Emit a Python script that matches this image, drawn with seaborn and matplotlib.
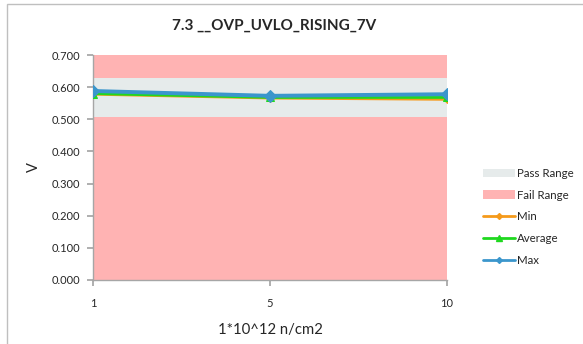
import matplotlib
matplotlib.use("Agg")
import matplotlib.pyplot as plt
import seaborn as sns
import pandas as pd
from matplotlib.patches import Rectangle, Patch
from matplotlib.lines import Line2D

sns.set_theme(style="white")
plt.rcParams['font.family'] = ['Lato', 'DejaVu Sans']

title = "7.3 __OVP_UVLO_RISING_7V"
categories = ["1", "5", "10"]
min_vals = [0.578, 0.566, 0.562]
avg_vals = [0.580, 0.568, 0.568]
max_vals = [0.588, 0.573, 0.578]
pass_low, pass_high = 0.507, 0.627
y_min, y_max = 0.0, 0.700
y_ticks = [0.0, 0.1, 0.2, 0.3, 0.4, 0.5, 0.6, 0.7]
x_label = "1*10^12 n/cm2"
y_label = "V"

df = pd.DataFrame({
    "x": categories * 3,
    "value": min_vals + avg_vals + max_vals,
    "series": ["Min"] * 3 + ["Average"] * 3 + ["Max"] * 3,
})

colors = {"Min": "#F59A1B", "Average": "#1FD81F", "Max": "#3B96CC"}
markers = {"Min": "D", "Average": "^", "Max": "D"}

fig = plt.figure(figsize=(5.83, 3.44), dpi=100)
fig.patches.append(Rectangle((7 / 583, -0.1), 1.2, 1 - 4 / 344 + 0.1, transform=fig.transFigure,
                             fill=False, edgecolor="#BFBFBF", linewidth=1))
ax = fig.add_axes([93 / 583, 1 - 280 / 344, (447 - 93) / 583, (280 - 55) / 344])

ax.axhspan(y_min, y_max, color="#FFB3B3", zorder=0, lw=0)
ax.axhspan(pass_low, pass_high, color="#E6EBEB", zorder=1, lw=0)

for s, lw, ms in [("Min", 2.0, 4), ("Average", 2.0, 5.5), ("Max", 2.8, 6)]:
    sub = df[df.series == s]
    sns.lineplot(data=sub, x="x", y="value", ax=ax, color=colors[s], marker=markers[s],
                 markersize=ms, markeredgecolor=colors[s], linewidth=lw, zorder=3, legend=False,
                 sort=False)

ax.set_xlim(0, 2)
ax.set_ylim(y_min, y_max)
ax.set_yticks(y_ticks)
ax.set_yticklabels([f"{v:.3f}" for v in y_ticks], fontsize=8)
ax.tick_params(axis="x", labelsize=8, length=4, color="#A6A6A6", bottom=True, pad=9)
ax.tick_params(axis="y", length=4, color="#A6A6A6", left=True, pad=5)
for sp in ["top", "right"]:
    ax.spines[sp].set_visible(False)
for sp in ["left", "bottom"]:
    ax.spines[sp].set_color("#A6A6A6")
    ax.spines[sp].set_linewidth(1)
ax.set_xlabel(x_label, fontsize=10.7, labelpad=10)
ax.set_ylabel(y_label, fontsize=10.5, labelpad=8)
fig.text((93 + 447) / 2 / 583 + 4 / 583, 1 - 26 / 344, title, ha="center", va="center",
         fontsize=11, fontweight="bold")

handles = [
    Patch(facecolor="#E6EBEB", edgecolor="none"),
    Patch(facecolor="#FFB3B3", edgecolor="none"),
    Line2D([], [], color=colors["Min"], marker="D", markersize=3, linewidth=2),
    Line2D([], [], color=colors["Average"], marker="^", markersize=4, linewidth=2),
    Line2D([], [], color=colors["Max"], marker="D", markersize=3, linewidth=2),
]
labels = ["Pass Range", "Fail Range", "Min", "Average", "Max"]
fig.legend(handles, labels, loc="center left", bbox_to_anchor=(478 / 583, 1 - 217 / 344),
           frameon=False, fontsize=8.3, handlelength=2.8, handletextpad=0.2,
           labelspacing=0.95, borderaxespad=0)

fig.savefig("out.png", dpi=100)
